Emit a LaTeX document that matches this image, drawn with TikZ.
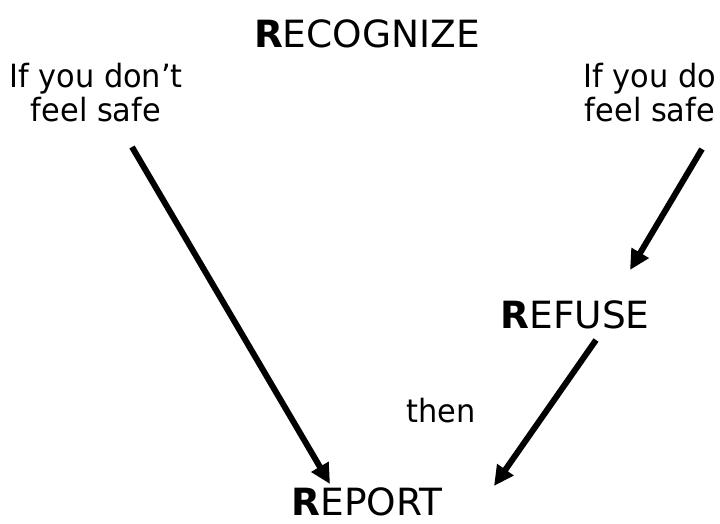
\documentclass[tikz,border=0pt]{standalone}
\usepackage{fontspec}
\setmainfont{DejaVu Sans}
\newfontfamily\lblfont{DejaVu Sans}[FakeStretch=0.95]
\usetikzlibrary{arrows.meta}
\begin{document}
\begin{tikzpicture}[x=1pt,y=-1pt,
  big/.style={font=\fontsize{37.5}{40}\selectfont, inner sep=0pt, anchor=base},
  lbl/.style={font=\lblfont\fontsize{32}{34}\selectfont, inner sep=0pt, align=center, anchor=north},
  arr/.style={line width=6pt, -{Triangle[length=20pt,width=19pt]}}]
\useasboundingbox (0,0) rectangle (720,523);
\node[big] (recognize) at (367,47) {\textbf{R}ECOGNIZE};
\node[lbl] (notsafe) at (96,63) {If you don’t\\feel safe};
\node[lbl] (safe) at (650,63) {If you do\\feel safe};
\node[big] (refuse) at (575,328) {\textbf{R}EFUSE};
\node[lbl, anchor=base] (then) at (441,422) {then};
\node[big] (report) at (367,515) {\textbf{R}EPORT};
\coordinate (ls) at (132,147);
\coordinate (le) at (330,484);
\coordinate (rs) at (702,149);
\coordinate (re) at (630,270);
\coordinate (bs) at (596,340);
\coordinate (be) at (494,486);
\draw[arr] (ls) -- (le);
\draw[arr] (rs) -- (re);
\draw[arr] (bs) -- (be);
\end{tikzpicture}
\end{document}
